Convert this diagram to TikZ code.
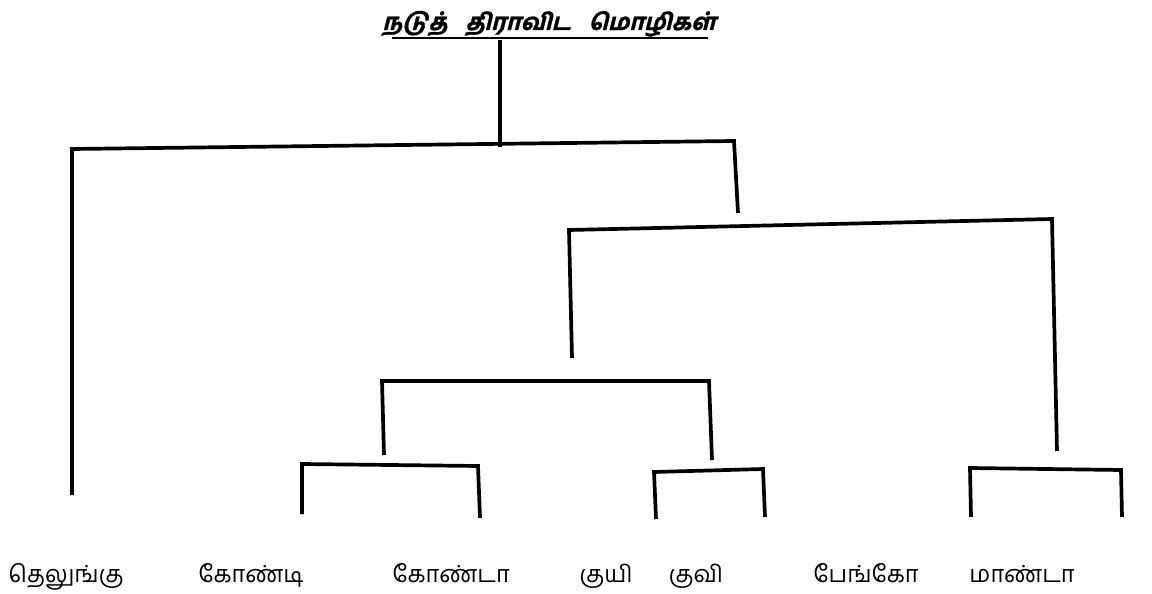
\documentclass[tikz,border=0pt]{standalone}
\usepackage{fontspec}
\newfontfamily\tamil[Script=Tamil]{Hind Madurai}
\newfontfamily\tamiltitle[Script=Tamil,FakeSlant=0.25,FakeBold=1]{Hind Madurai Bold}
\begin{document}
\begin{tikzpicture}[x=1pt,y=-1pt,
  branch/.style={line width=3.7pt,line cap=butt,line join=miter},
  lang/.style={font=\tamil\fontsize{23.5}{26}\selectfont,inner sep=0pt,anchor=base},
  heading/.style={font=\tamiltitle\fontsize{23}{26}\selectfont,inner sep=0pt,anchor=base}]
\useasboundingbox (0,0) rectangle (1152,594);

% heading with underline
\node[heading] (title) at (549,30) {நடுத்\hspace{18pt}திராவிட\hspace{18pt}மொழிகள்};
\draw[line width=1.6pt] (392,38) -- (708,38);

% language names
\node[lang] (te) at (66,582) {தெலுங்கு};
\node[lang] (gi) at (251,582) {கோண்டி};
\node[lang] (ga) at (451,582) {கோண்டா};
\node[lang] (ku) at (606,582) {குயி};
\node[lang] (kv) at (696,582) {குவி};
\node[lang] (pe) at (866,582) {பேங்கோ};
\node[lang] (ma) at (1022,582) {மாண்டா};

% branch points
\coordinate (r0) at (500,40);
\coordinate (r1) at (500,147);
\coordinate (aL) at (72,149);
\coordinate (aR) at (734,141);
\coordinate (aLe) at (72,495);
\coordinate (aRe) at (738,213);

\coordinate (bL) at (569,230);
\coordinate (bR) at (1052,219);
\coordinate (bLe) at (572,358);
\coordinate (bRe) at (1057,451);

\coordinate (cL) at (382,381);
\coordinate (cR) at (709,381);
\coordinate (cLe) at (384,455);
\coordinate (cRe) at (712,460);

\coordinate (dL) at (302,464);
\coordinate (dR) at (478,466);
\coordinate (dLe) at (302,514);
\coordinate (dRe) at (480,518);

\coordinate (eL) at (654,472);
\coordinate (eR) at (763,469);
\coordinate (eLe) at (656,519);
\coordinate (eRe) at (765,517);

\coordinate (fL) at (970,468);
\coordinate (fR) at (1121,470);
\coordinate (fLe) at (971,517);
\coordinate (fRe) at (1122,517);

% tree
\draw[branch] (r0) -- (r1);
\draw[branch] (aLe) -- (aL) -- (aR) -- (aRe);
\draw[branch] (bLe) -- (bL) -- (bR) -- (bRe);
\draw[branch] (cLe) -- (cL) -- (cR) -- (cRe);
\draw[branch] (dLe) -- (dL) -- (dR) -- (dRe);
\draw[branch] (eLe) -- (eL) -- (eR) -- (eRe);
\draw[branch] (fLe) -- (fL) -- (fR) -- (fRe);
\end{tikzpicture}
\end{document}
